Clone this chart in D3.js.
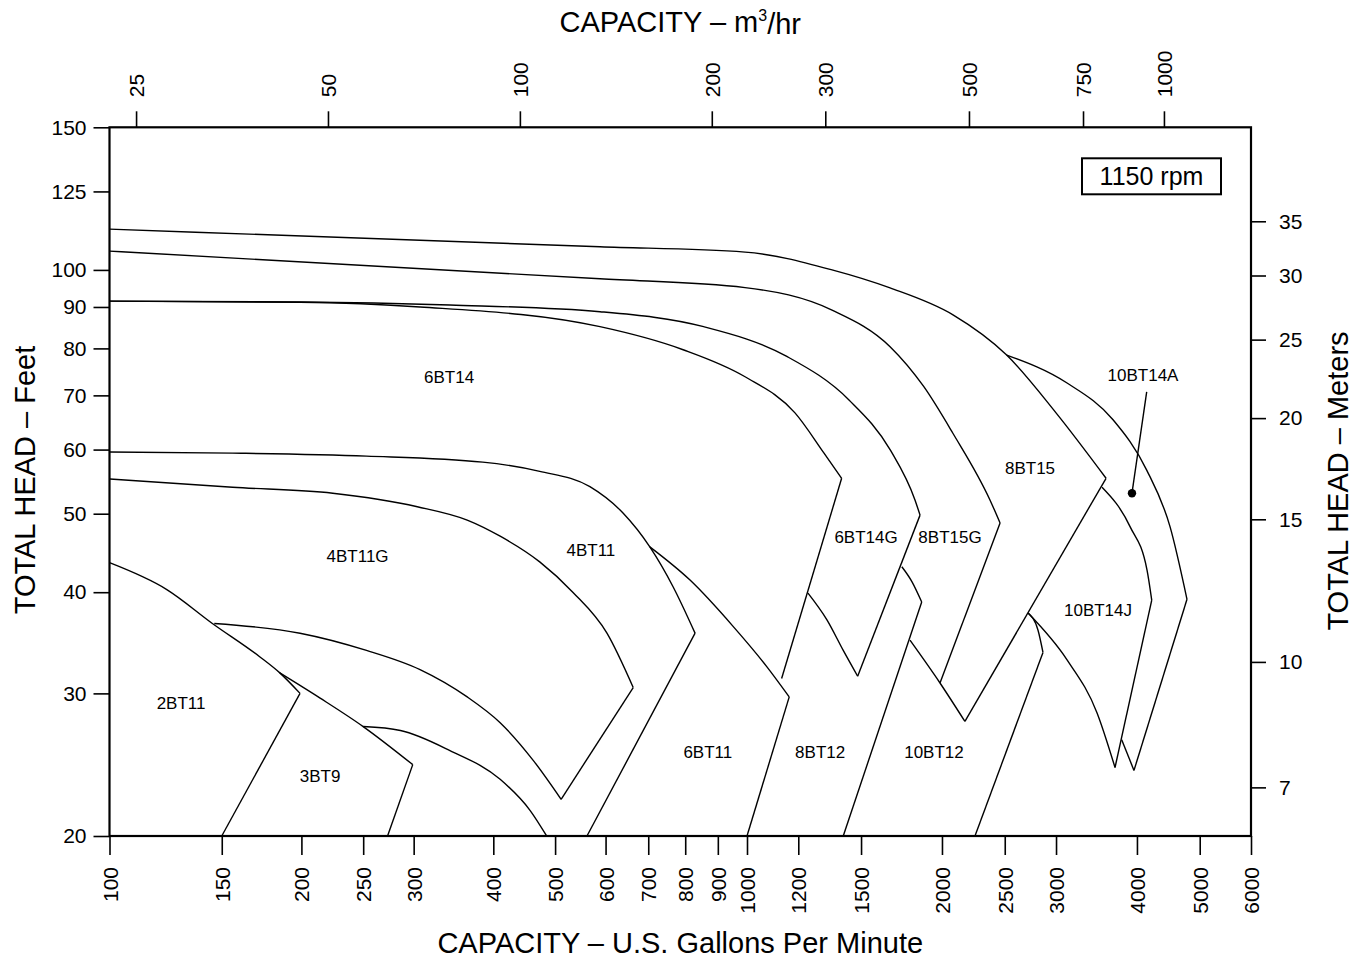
<!DOCTYPE html>
<html><head><meta charset="utf-8">
<script src="https://cdn.jsdelivr.net/npm/d3@7"></script>
<style>
body{margin:0;background:#fff;}
svg text{font-family:"Liberation Sans",Arial,Helvetica,sans-serif;fill:#000;}
</style></head><body>
<svg id="chart" width="1366" height="963"></svg>
<script>
// ---------- tick values ----------
const gpmTicks = [100,150,200,250,300,400,500,600,700,800,900,1000,1200,1500,2000,2500,3000,4000,5000,6000];
const feetTicks = [20,30,40,50,60,70,80,90,100,125,150];
const meterTicks = [7,10,15,20,25,30,35];
const m3hTicks = [25,50,100,200,300,500,750,1000];
const GPM_PER_M3H = 4.4029;
const FT_PER_M = 3.2808;

// ---------- max impeller (top) curves [gpm, ft] ----------
const c2BT11Top = [[100,43.5],[123,40.3],[145,36.6],[172,33.3],[185,31.8],[199,30.0]];
const c3BT9Top = [[185,31.8],[214,29.6],[250,27.3],[299,24.5]];
const c4BT11GTop = [[100,55.2],[156,53.9],[224,53.0],[304,51.0],[364,49.1],[410,46.9],[473,43.6],[533,40.0],[603,35.6],[663,30.5]];
const c4BT11Top = [[100,59.6],[156,59.4],[253,58.9],[385,57.9],[473,56.4],[567,54.0],[639,50.1],[704,45.5],[766,40.6],[829,35.6]];
const c6BT11Top = [[704,45.5],[814,41.4],[951,36.3],[1072,32.4],[1162,29.7]];
const c6BT14Top = [[100,91.5],[199,91.2],[307,90.0],[588,85.1],[794,79.7],[993,73.8],[1186,66.6],[1315,59.4],[1400,55.3]];
const c6BT14GTop = [[100,91.5],[199,91.3],[342,90.5],[588,88.8],[855,85.1],[1152,78.2],[1437,69.1],[1665,59.9],[1817,52.0],[1850,49.8]];
const c8BT15GTop = [[100,105.5],[588,97.5],[993,95.1],[1353,89.2],[1663,80.4],[1874,71.8],[2078,62.9],[2372,52.0],[2459,48.7]];
const c8BT15Top = [[100,112.3],[588,106.8],[993,105.2],[1353,100],[1663,95.0],[2080,88.0],[2517,78.5],[3000,66.6],[3584,55.3]];
const c8BT12Top = [[1734,43.0],[1798,41.2],[1861,38.9]];
const c10BT12Top = [[2716,37.7],[2814,35.9],[2864,33.7]];
const c10BT14JTop = [[3533,53.9],[3903,48.2],[4146,42.6],[4216,39.1]];
const c10BT14ATop = [[2517,78.5],[3120,72.5],[3674,65.3],[4141,56.6],[4499,48.2],[4779,39.2]];

// ---------- min impeller (bottom) curves ----------
const c4BT11GMin = [[146,36.6],[199,35.6],[253,33.9],[307,32.1],[364,29.7],[410,27.6],[462,24.8],[511,22.2]];
const c4BT11Min = [[250,27.3],[286,27.0],[342,25.5],[410,23.5],[457,21.5],[485,20]];
const c6BT14GMin = [[1242,39.9],[1328,37.0],[1408,33.9],[1482,31.5]];
const c8BT15Min = [[1785,34.9],[1986,30.9],[2170,27.7]];
const c10BT14JMin = [[2716,37.7],[3120,33.0],[3470,28.4],[3700,24.3]];
const c10BT14AMin = [[3789,26.3],[3958,24.1]];

// ---------- end-of-curve edges ----------
const e2BT11 = [[199,30.0],[150,20]];
const e3BT9 = [[299,24.5],[273,20]];
const e4BT11G = [[663,30.5],[511,22.2]];
const e4BT11 = [[829,35.6],[561,20]];
const e6BT11 = [[1162,29.7],[1000,20]];
const e6BT14 = [[1400,55.3],[1131,31.3]];
const e6BT14G = [[1850,49.8],[1482,31.5]];
const e8BT12 = [[1861,38.9],[1408,20]];
const e8BT15G = [[2459,48.7],[1986,30.9]];
const e8BT15 = [[3584,55.3],[2170,27.7]];
const e10BT12 = [[2864,33.7],[2249,20]];
const e10BT14J = [[4216,39.1],[3700,24.3]];
const e10BT14A = [[4779,39.2],[3958,24.1]];

// ---------- labels ----------
const labelNames = ["2BT11","3BT9","4BT11G","4BT11","6BT14","6BT11","6BT14G","8BT12","8BT15G","10BT12","8BT15","10BT14J","10BT14A"];
const labelGpm = [129.5,214,245,569,341,868,1527,1297,2058,1944,2735,3483,4087];
const labelFt = [29.2,23.7,44.3,45.1,73.8,25.4,46.8,25.4,46.8,25.4,56.9,38.0,74.2];
const markerPoint = [3930,53.0];
const pointerStart = [4141,70.7];
const speedLabel = "1150 rpm";

// ---------- scales ----------
const x = d3.scaleLog().domain([100,1000,6000]).range([109.5,747,1251]);
const xTop = d3.scaleLog().domain(x.domain().map(v => v / GPM_PER_M3H)).range(x.range());
const y = d3.scaleLog().domain([20,150]).range([836,127.3]);
const yM = d3.scaleLog().domain(y.domain().map(v => v / FT_PER_M)).range(y.range());

const svg = d3.select("#chart");
const X0 = x(100), X1 = x(6000), Y0 = y(20), Y1 = y(150);

// curves
const curveGen = d3.line().x(d => x(d[0])).y(d => y(d[1])).curve(d3.curveMonotoneX);
const lineGen = d3.line().x(d => x(d[0])).y(d => y(d[1]));
const curves = [c2BT11Top,c3BT9Top,c4BT11GTop,c4BT11Top,c6BT11Top,c6BT14Top,c6BT14GTop,c8BT15GTop,c8BT15Top,c8BT12Top,c10BT12Top,c10BT14JTop,c10BT14ATop,
  c4BT11GMin,c4BT11Min,c6BT14GMin,c8BT15Min,c10BT14JMin,c10BT14AMin];
const edges = [e2BT11,e3BT9,e4BT11G,e4BT11,e6BT11,e6BT14,e6BT14G,e8BT12,e8BT15G,e8BT15,e10BT12,e10BT14J,e10BT14A];

const gPlot = svg.append("g");
gPlot.selectAll("path.curve").data(curves).join("path").attr("class","curve")
  .attr("d", curveGen).attr("fill","none").attr("stroke","#000").attr("stroke-width",1.4);
gPlot.selectAll("path.edge").data(edges).join("path").attr("class","edge")
  .attr("d", lineGen).attr("fill","none").attr("stroke","#000").attr("stroke-width",1.4);

// axes
function styleAxis(g, size){
  g.select(".domain").remove();
  g.selectAll("line").attr("stroke","#000").attr("stroke-width",1.6);
  g.selectAll("text").attr("font-size",size).attr("fill","#000").style("font-family",'"Liberation Sans",Arial,sans-serif');
  g.attr("font-family",null).attr("font-size",null);
}
const gB = svg.append("g").attr("transform",`translate(0,${Y0})`)
  .call(d3.axisBottom(x).tickValues(gpmTicks).tickSize(19).tickFormat(d3.format("d")));
styleAxis(gB, 21);
gB.selectAll("text").attr("transform","rotate(-90)").attr("x",-31).attr("y",0).attr("dy","0.36em").attr("text-anchor","end");

const gT = svg.append("g").attr("transform",`translate(0,${Y1})`)
  .call(d3.axisTop(xTop).tickValues(m3hTicks).tickSize(16).tickFormat(d3.format("d")));
styleAxis(gT, 21);
gT.selectAll("text").attr("transform","rotate(-90)").attr("x",30).attr("y",0).attr("dy","0.36em").attr("text-anchor","start");

const gL = svg.append("g").attr("transform",`translate(${X0},0)`)
  .call(d3.axisLeft(y).tickValues(feetTicks).tickSize(16).tickPadding(7).tickFormat(d3.format("d")));
styleAxis(gL, 21);

const gR = svg.append("g").attr("transform",`translate(${X1},0)`)
  .call(d3.axisRight(yM).tickValues(meterTicks).tickSize(15).tickPadding(13).tickFormat(d3.format("d")));
styleAxis(gR, 21);

// frame
svg.append("rect").attr("x",X0).attr("y",Y1).attr("width",X1-X0).attr("height",Y0-Y1)
  .attr("fill","none").attr("stroke","#000").attr("stroke-width",2.2);

// curve labels
svg.append("g").selectAll("text").data(labelNames).join("text")
  .attr("x",(d,i)=>x(labelGpm[i])).attr("y",(d,i)=>y(labelFt[i]))
  .attr("text-anchor","middle").attr("dy","0.35em").attr("font-size",17).text(d=>d);

// pointer + marker
svg.append("line").attr("x1",x(pointerStart[0])).attr("y1",y(pointerStart[1]))
  .attr("x2",x(markerPoint[0])).attr("y2",y(markerPoint[1])).attr("stroke","#000").attr("stroke-width",1.4);
svg.append("circle").attr("cx",x(markerPoint[0])).attr("cy",y(markerPoint[1])).attr("r",4.2).attr("fill","#000");

// speed box
const bx = X1 - 30, by = Y1 + 31;
svg.append("rect").attr("x",bx-139).attr("y",by).attr("width",139).attr("height",36)
  .attr("fill","#fff").attr("stroke","#000").attr("stroke-width",2);
svg.append("text").attr("x",bx-69.5).attr("y",by+18).attr("dy","0.35em").attr("text-anchor","middle")
  .attr("font-size",25).text(speedLabel);

// titles
svg.append("text").attr("x",(X0+X1)/2).attr("y",943).attr("dy","0.35em").attr("text-anchor","middle")
  .attr("font-size",29).text("CAPACITY – U.S. Gallons Per Minute");
const tt = svg.append("text").attr("x",(X0+X1)/2).attr("y",22).attr("dy","0.35em").attr("text-anchor","middle")
  .attr("font-size",29);
tt.append("tspan").text("CAPACITY – m");
tt.append("tspan").attr("font-size",16).attr("dy","-0.7em").text("3");
tt.append("tspan").attr("dy","0.45em").text("/hr");
svg.append("text").attr("transform","translate(25,480) rotate(-90)").attr("dy","0.35em").attr("text-anchor","middle")
  .attr("font-size",29).text("TOTAL HEAD – Feet");
svg.append("text").attr("transform","translate(1338,481) rotate(-90)").attr("dy","0.35em").attr("text-anchor","middle")
  .attr("font-size",29).text("TOTAL HEAD – Meters");
</script>
</body></html>
